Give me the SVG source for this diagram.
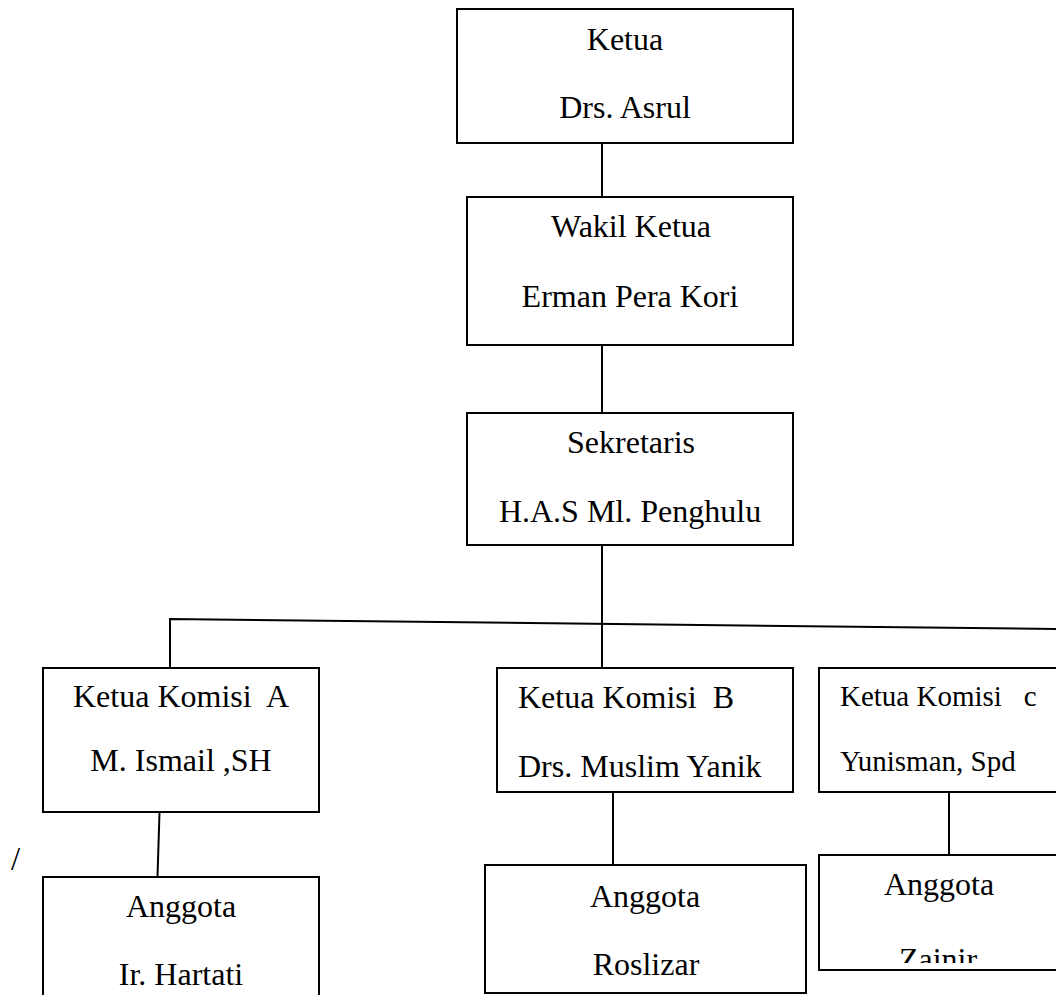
<svg xmlns="http://www.w3.org/2000/svg" width="1056" height="995" viewBox="0 0 1056 995">
<style>
.box{fill:#fff;stroke:#000;stroke-width:2}
.ln{fill:none;stroke:#000;stroke-width:2}
text{font-family:"Liberation Serif","Times New Roman",serif;font-size:32px;fill:#000}
.c{text-anchor:middle}
.s{font-size:29px;white-space:pre}
</style>
<defs>
<clipPath id="clipZ"><rect x="819" y="855" width="240" height="108"/></clipPath>
</defs>
<rect width="1056" height="995" fill="#fff"/>
<g id="connectors">
<line class="ln" x1="602" y1="143" x2="602" y2="197"/>
<line class="ln" x1="602" y1="345" x2="602" y2="413"/>
<line class="ln" x1="602" y1="545" x2="602" y2="668"/>
<polyline class="ln" points="170,668 170,619 1058,629"/>
<line class="ln" x1="159.5" y1="812" x2="157.5" y2="877"/>
<line class="ln" x1="613" y1="792" x2="613" y2="865"/>
<line class="ln" x1="949" y1="792" x2="949" y2="855"/>
</g>
<g id="ketua">
<rect class="box" x="457" y="9" width="336" height="134"/>
<text class="c" x="625" y="50">Ketua</text>
<text class="c" x="625" y="118">Drs. Asrul</text>
</g>
<g id="wakil">
<rect class="box" x="467" y="197" width="326" height="148"/>
<text class="c" x="631" y="237">Wakil Ketua</text>
<text class="c" x="630" y="307">Erman Pera Kori</text>
</g>
<g id="sekretaris">
<rect class="box" x="467" y="413" width="326" height="132"/>
<text class="c" x="631" y="453">Sekretaris</text>
<text class="c" x="630" y="522">H.A.S Ml. Penghulu</text>
</g>
<g id="komisiA">
<rect class="box" x="43" y="668" width="276" height="144"/>
<text class="c" x="181" y="707" style="white-space:pre">Ketua Komisi  A</text>
<text class="c" x="181" y="771">M. Ismail ,SH</text>
</g>
<g id="komisiB">
<rect class="box" x="497" y="668" width="296" height="124"/>
<text x="518" y="708" style="white-space:pre">Ketua Komisi  B</text>
<text x="518" y="777">Drs. Muslim Yanik</text>
</g>
<g id="komisiC">
<rect class="box" x="819" y="668" width="240" height="124"/>
<text class="s" x="840" y="706">Ketua Komisi   c</text>
<text class="s" x="840" y="771">Yunisman, Spd</text>
</g>
<g id="anggotaA">
<path class="ln" d="M43,997 V877 H319 V997"/>
<text class="c" x="181" y="917">Anggota</text>
<text class="c" x="181" y="985">Ir. Hartati</text>
</g>
<g id="anggotaB">
<rect class="box" x="485" y="865" width="321" height="128"/>
<text class="c" x="645" y="907">Anggota</text>
<text class="c" x="646" y="975">Roslizar</text>
</g>
<g id="anggotaC">
<rect class="box" x="819" y="855" width="240" height="115"/>
<text class="c" x="939" y="895">Anggota</text>
<text class="c" x="938" y="970" clip-path="url(#clipZ)">Zainir</text>
</g>
<text x="11" y="870" style="font-size:33px">/</text>
</svg>
